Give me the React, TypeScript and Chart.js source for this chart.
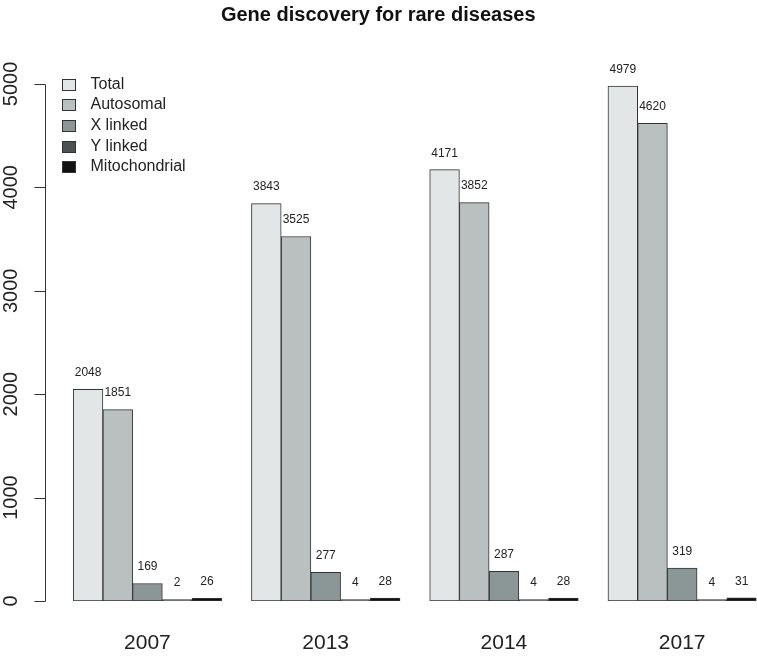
import React, { useEffect, useRef } from 'react';
import { Chart, registerables } from 'chart.js';

Chart.register(...registerables);

const years = ['2007', '2013', '2014', '2017'];
const total = [2048, 3843, 4171, 4979];
const autosomal = [1851, 3525, 3852, 4620];
const xLinked = [169, 277, 287, 319];
const yLinked = [2, 4, 4, 4];
const mitochondrial = [26, 28, 28, 31];
const seriesNames = ['Total', 'Autosomal', 'X linked', 'Y linked', 'Mitochondrial'];
const seriesColors = ['#e3e6e6', '#b9c0bf', '#8b9796', '#4b5352', '#111111'];
const yTickValues = [0, 1000, 2000, 3000, 4000, 5000];

const FONT = '"Liberation Sans", Arial, Helvetica, sans-serif';

// R-style y axis: line only from first to last tick, rotated labels
const rAxisPlugin = {
  id: 'rAxis',
  afterDraw(chart: any) {
    const { ctx, chartArea } = chart;
    const y = chart.scales.y;
    const x0 = Math.round(chartArea.left) + 1.5;
    ctx.save();
    ctx.strokeStyle = '#333';
    ctx.lineWidth = 1;
    ctx.beginPath();
    ctx.moveTo(x0, Math.round(y.getPixelForValue(yTickValues[0])) + 0.5);
    ctx.lineTo(x0, Math.round(y.getPixelForValue(yTickValues[yTickValues.length - 1])) + 0.5);
    yTickValues.forEach((v) => {
      const py = Math.round(y.getPixelForValue(v)) + 0.5;
      ctx.moveTo(x0 - 11, py);
      ctx.lineTo(x0, py);
    });
    ctx.stroke();
    ctx.fillStyle = '#222';
    ctx.font = `20px ${FONT}`;
    ctx.textAlign = 'center';
    ctx.textBaseline = 'alphabetic';
    yTickValues.forEach((v) => {
      ctx.save();
      ctx.translate(17, y.getPixelForValue(v));
      ctx.rotate(-Math.PI / 2);
      ctx.fillText(String(v), 0, 0);
      ctx.restore();
    });
    ctx.restore();
  },
};

// value labels above each bar
const valueLabelPlugin = {
  id: 'valueLabels',
  afterDatasetsDraw(chart: any) {
    const { ctx } = chart;
    ctx.save();
    ctx.fillStyle = '#222';
    ctx.font = `12px ${FONT}`;
    ctx.textAlign = 'center';
    ctx.textBaseline = 'middle';
    chart.data.datasets.forEach((ds: any, i: number) => {
      if (!ds.label) return;
      const meta = chart.getDatasetMeta(i);
      meta.data.forEach((bar: any, j: number) => {
        ctx.fillText(String(ds.data[j]), bar.x, bar.y - 16.5);
      });
    });
    ctx.restore();
  },
};

// legend drawn inside the plot area, top-left
const innerLegendPlugin = {
  id: 'innerLegend',
  afterDraw(chart: any) {
    const { ctx, chartArea } = chart;
    const items = chart.data.datasets.filter((d: any) => d.label);
    const x = Math.round(chartArea.left) + 18.5;
    const y0 = chartArea.top + 41.5;
    ctx.save();
    ctx.font = `16px ${FONT}`;
    ctx.textBaseline = 'middle';
    ctx.textAlign = 'left';
    items.forEach((d: any, i: number) => {
      const cy = y0 + i * 20.7;
      ctx.fillStyle = d.backgroundColor;
      ctx.fillRect(x, Math.round(cy - 5.5) + 0.5, 13, 11);
      ctx.strokeStyle = '#333';
      ctx.lineWidth = 1;
      ctx.strokeRect(x, Math.round(cy - 5.5) + 0.5, 13, 11);
      ctx.fillStyle = '#222';
      ctx.fillText(d.label, x + 28, cy);
    });
    ctx.restore();
  },
};

export default function App() {
  const chartRef = useRef<HTMLCanvasElement>(null);
  const chartInstance = useRef<Chart | null>(null);

  useEffect(() => {
    document.body.style.margin = '0';
    if (!chartRef.current) return;
    if (chartInstance.current) chartInstance.current.destroy();
    const ctx = chartRef.current.getContext('2d');
    if (!ctx) return;

    const values = [total, autosomal, xLinked, yLinked, mitochondrial];
    const common = {
      borderColor: '#333333',
      borderWidth: 1,
      borderSkipped: false,
      barPercentage: 1,
      categoryPercentage: 1,
      minBarLength: 1.5,
    };

    chartInstance.current = new Chart(ctx, {
      type: 'bar',
      data: {
        labels: years,
        datasets: [
          // empty slot: R's space before each group
          { ...common, label: '', data: years.map(() => null), backgroundColor: 'rgba(0,0,0,0)', borderWidth: 0 },
          ...seriesNames.map((name, i) => ({
            ...common,
            label: name,
            data: values[i],
            backgroundColor: seriesColors[i],
          })),
        ] as any,
      },
      options: {
        responsive: false,
        animation: false,
        devicePixelRatio: 1,
        layout: { padding: { top: 0, right: 0.5, bottom: 0, left: 0 } },
        plugins: {
          legend: { display: false },
          tooltip: { enabled: false },
          title: {
            display: true,
            text: 'Gene discovery for rare diseases',
            color: '#111',
            font: { family: FONT, size: 20, weight: 'bold' },
            padding: { top: 3, bottom: 15.6 },
          },
        },
        scales: {
          x: {
            afterFit: (s: any) => {
              s.height = 62;
            },
            grid: { display: false, drawTicks: false },
            border: { display: false },
            ticks: {
              color: '#222',
              font: { family: FONT, size: 21 },
              padding: 29.4,
              labelOffset: 14.8,
              maxRotation: 0,
              autoSkip: false,
            },
          },
          y: {
            min: 0,
            max: 5400,
            afterFit: (s: any) => {
              s.width = 43.5;
            },
            grid: { display: false, drawTicks: false },
            border: { display: false },
            ticks: { display: false, stepSize: 1000 },
          },
        },
      },
      plugins: [rAxisPlugin, valueLabelPlugin, innerLegendPlugin],
    });

    return () => {
      if (chartInstance.current) {
        chartInstance.current.destroy();
        chartInstance.current = null;
      }
    };
  }, []);

  return (
    <div style={{ width: 757, height: 663, background: '#fff' }}>
      <canvas ref={chartRef} width={757} height={663} />
    </div>
  );
}
